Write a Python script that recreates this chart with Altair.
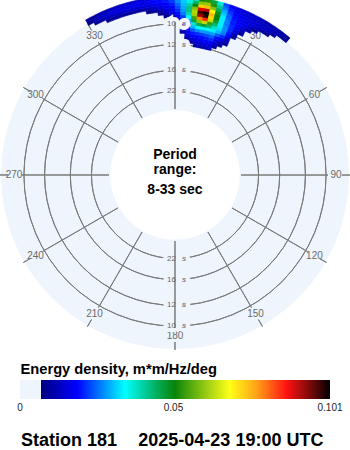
import math
import numpy as np
import pandas as pd
import altair as alt

# ---------------- data ----------------
# frequency bins (Hz, centres), inner -> outer
FREQUENCIES = [0.08375, 0.08625, 0.08875, 0.09125, 0.09375, 0.09625, 0.09875, 0.10125,
               0.10375, 0.10625, 0.10875, 0.11125, 0.11375, 0.11625, 0.11875, 0.12125]
# energy density per direction bin (deg, centre); each list runs over FREQUENCIES
D329 = [0] * 16
D331 = [0] * 14 + [.008, .009]
D333 = [0] * 13 + [.009, .011, .010]
D335 = [0] * 13 + [.010, .013, .012]
D337 = [0] * 12 + [.008, .012, .014, .012]
D339 = [0] * 12 + [.009, .013, .015, .013]
D341 = [0] * 12 + [.009, .013, .016, .013]
D343 = [0] * 12 + [.009, .014, .016, .014]
D345 = [0] * 12 + [.009, .014, .016, .014]
D347 = [0] * 12 + [.009, .014, .017, .015]
D349 = [0] * 12 + [.010, .015, .017, .015]
D351 = [0] * 11 + [.008, .011, .015, .017, .016]
D353 = [0] * 11 + [.009, .013, .016, .018, .017]
D355 = [0] * 10 + [.008, .011, .014, .017, .019, .018]
D357 = [0] * 9 + [.008, .011, .014, .016, .018, .020, .020]
D359 = [0] * 8 + [.008, .012, .015, .017, .018, .020, .022, .022]
D001 = [0] * 7 + [.009, .012, .016, .019, .021, .023, .025, .027, .027]
D003 = [0] * 4 + [.009, .012, .015, .017, .019, .022, .026, .028, .029, .030, .031, .030]
D005 = [0] * 2 + [.010, .014, .017, .019, .022, .025, .029, .034, .039, .042, .042, .040, .036, .032]
D007 = [0] + [.010, .014, .017, .020, .024, .030, .037, .046, .055, .062, .063, .060, .050, .044, .038]
D009 = [.010, .013, .016, .018, .021, .027, .034, .045, .060, .078, .092, .097, .088, .072, .060, .052]
D011 = [.011, .014, .017, .019, .022, .028, .035, .047, .064, .084, .099, .101, .090, .074, .061, .053]
D013 = [.012, .015, .018, .020, .023, .028, .034, .043, .054, .064, .072, .074, .068, .060, .053, .046]
D015 = [.012, .015, .018, .021, .024, .028, .033, .038, .043, .047, .050, .050, .048, .045, .041, .037]
D017 = [0, .010, .013, .016, .019, .024, .030, .032, .033, .033, .033, .033, .031, .029, .026, .023]
D019 = [0, 0, .009, .012, .016, .021, .026, .027, .027, .026, .026, .025, .024, .022, .020, .018]
D021 = [0, 0, 0, .009, .012, .015, .018, .020, .021, .021, .020, .020, .019, .018, .017, .016]
D023 = [0] * 6 + [.009, .012, .015, .017, .018, .018, .017, .017, .016, .015]
D025 = [0] * 8 + [.009, .012, .015, .016, .016, .016, .015, .014]
D027 = [0] * 10 + [.010, .013, .015, .015, .014, .013]
D029 = [0] * 11 + [.009, .013, .014, .014, .012]
D031 = [0] * 12 + [.010, .013, .013, .012]
D033 = [0] * 12 + [.008, .012, .013, .011]
D035 = [0] * 13 + [.010, .012, .011]
D037 = [0] * 14 + [.011, .010]
D039 = [0] * 14 + [.009, .009]
D041 = [0] * 16

DIRECTIONS = [329, 331, 333, 335, 337, 339, 341, 343, 345, 347, 349, 351, 353, 355, 357, 359,
              1, 3, 5, 7, 9, 11, 13, 15, 17, 19, 21, 23, 25, 27, 29, 31, 33, 35, 37, 39, 41]
COLUMNS = [D329, D331, D333, D335, D337, D339, D341, D343, D345, D347, D349, D351, D353, D355,
           D357, D359, D001, D003, D005, D007, D009, D011, D013, D015, D017, D019, D021, D023,
           D025, D027, D029, D031, D033, D035, D037, D039, D041]

RING_PERIODS = [10, 12, 16, 22]
RING_NUMBERS = ["10", "12", "16", "22"]
INNER_PERIOD = 33
OUTER_PERIOD = 8
ANGLES = [0, 30, 60, 90, 120, 150, 180, 210, 240, 270, 300, 330]
LABEL_ANGLES = [30, 60, 90, 120, 150, 180, 210, 240, 270, 300, 330]
LABEL_TEXTS = ["30", "60", "90", "120", "150", "180", "210", "240", "270", "300", "330"]

CB_VALUES = [0, 0.00684, 0.00685, 0.0185, 0.0342, 0.0505, 0.0684, 0.0771, 0.0869, 0.101]
CB_COLORS = ["#eef5fd", "#eef5fd", "#00007f", "#0000ff", "#00ffff", "#008000",
             "#ffff00", "#ff9900", "#ff0000", "#000000"]
CB_TICKS = [0, 0.05, 0.101]
CB_TICK_TEXT = ["0", "0.05", "0.101"]

TITLE_CB = "Energy density, m*m/Hz/deg"
STATION = "Station 181"
STAMP = "2025-04-23 19:00 UTC"
CENTER_LINES = ["Period", "range:", "8-33 sec"]

# ---------------- style ----------------
LIGHT = "#eef5fd"
GRID = "#7a7a7a"
LABEL_GREY = "#6a6a6a"
FONT = "Liberation Sans"
CX, CY = 175, 175
DIR_HALF = 1.0
FREQ_HALF = 0.00125

R_SCALE = alt.Scale(type="linear", domain=[1 / INNER_PERIOD, 1 / OUTER_PERIOD], range=[64.8, 182.0], zero=False)
T_SCALE = alt.Scale(domain=[0, 360], range=[0, 2 * math.pi])
C_SCALE = alt.Scale(domain=CB_VALUES, range=CB_COLORS, interpolate="rgb")
X_SCALE = alt.Scale(domain=[0, 0.101], range=[20, 330])

cx = alt.value(CX)
cy = alt.value(CY)

# ---------------- tables ----------------
heat_rows = []
for d, col in zip(DIRECTIONS, COLUMNS):
    for f, e in zip(FREQUENCIES, col):
        heat_rows.append({"dir": d, "f": f, "e": e})
heat_df = pd.DataFrame(heat_rows)

rings_df = pd.DataFrame({"T": RING_PERIODS})
angles_df = pd.DataFrame({"a": ANGLES})
labels_df = pd.DataFrame({"a": LABEL_ANGLES, "lab": LABEL_TEXTS})
ringlab_df = pd.DataFrame({
    "T": RING_PERIODS * 2,
    "num": RING_NUMBERS * 2,
    "a": [0] * len(RING_PERIODS) + [180] * len(RING_PERIODS),
})

# colour bar ramp (rendering of the colour scale)
edges = np.linspace(CB_VALUES[1], CB_VALUES[-1], 291)
step = edges[1] - edges[0]
cb_df = pd.DataFrame({
    "e0": np.concatenate([[0.0], edges[:-1]]),
    "e1": np.concatenate([[CB_VALUES[1]], edges[:-1] + step * 1.4]),
    "e": np.concatenate([[0.0], (edges[:-1] + edges[1:]) / 2]),
})
cb_df.loc[len(cb_df) - 1, "e1"] = CB_VALUES[-1]
cbt_df = pd.DataFrame({"v": CB_TICKS, "t": CB_TICK_TEXT})
one = pd.DataFrame({"k": [0]})

# ---------------- layers ----------------
full = dict(theta=alt.value(0), theta2=alt.value(2 * math.pi))

disc = alt.Chart(one).mark_arc(fill=LIGHT).encode(radius=alt.value(174), x=cx, y=cy, **full)

inner = alt.Chart(pd.DataFrame({"T": [INNER_PERIOD]})).transform_calculate(
    f="1 / datum.T").mark_arc(fill="white").encode(
    radius=alt.Radius("f:Q", scale=R_SCALE, stack=False), radius2=alt.value(0),
    x=cx, y=cy, **full)

rings = alt.Chart(rings_df).transform_calculate(f="1 / datum.T").mark_arc(
    fill="transparent", stroke=GRID, strokeWidth=1).encode(
    radius=alt.Radius("f:Q", scale=R_SCALE, stack=False), radius2="f:Q",
    x=cx, y=cy, **full)

angle_labels = alt.Chart(labels_df).mark_text(
    font=FONT, fontSize=10, color=LABEL_GREY, align="center", baseline="middle").encode(
    theta=alt.Theta("a:Q", scale=T_SCALE, stack=False), radius=alt.value(161),
    text="lab:N", x=cx, y=cy)

ticks = alt.Chart(angles_df).transform_calculate(a2="datum.a + 0.02").mark_arc(
    fill="transparent", stroke=GRID, strokeWidth=1).encode(
    theta=alt.Theta("a:Q", scale=T_SCALE, stack=False), theta2="a2:Q",
    radius=alt.value(175), radius2=alt.value(167), x=cx, y=cy)

heat = alt.Chart(heat_df).transform_filter("datum.e > 0").transform_calculate(
    d0=f"datum.dir - {DIR_HALF}", d1=f"datum.dir + {DIR_HALF}",
    f0=f"datum.f - {FREQ_HALF}", f1=f"datum.f + {FREQ_HALF}").mark_arc(strokeWidth=0.6).encode(
    theta=alt.Theta("d0:Q", scale=T_SCALE, stack=False), theta2="d1:Q",
    radius=alt.Radius("f1:Q", scale=R_SCALE, stack=False), radius2="f0:Q",
    color=alt.Color("e:Q", scale=C_SCALE, legend=None),
    stroke=alt.Stroke("e:Q", scale=C_SCALE, legend=None),
    x=cx, y=cy)

ring_base = alt.Chart(ringlab_df).transform_calculate(f="1 / datum.T")
ring_pos = dict(theta=alt.Theta("a:Q", scale=T_SCALE, stack=False),
                radius=alt.Radius("f:Q", scale=R_SCALE, stack=False), x=cx, y=cy)

halo_num = ring_base.mark_text(font=FONT, fontSize=8, align="right", baseline="middle", dx=1,
                               fill=LIGHT, stroke=LIGHT, strokeWidth=8).encode(text="num:N", **ring_pos)
halo_s = ring_base.mark_text(font=FONT, fontSize=8, fontStyle="italic", align="left", baseline="middle",
                             dx=7, fill=LIGHT, stroke=LIGHT, strokeWidth=8).encode(text=alt.value("s"), **ring_pos)

spokes = alt.Chart(angles_df).transform_calculate(a2="datum.a + 0.02").mark_arc(
    fill="transparent", stroke=GRID, strokeWidth=1).encode(
    theta=alt.Theta("a:Q", scale=T_SCALE, stack=False), theta2="a2:Q",
    radius=alt.value(153), radius2=alt.value(66), x=cx, y=cy)

ring_num = ring_base.mark_text(font=FONT, fontSize=8, align="right", baseline="middle", dx=1,
                               color=LABEL_GREY).encode(text="num:N", **ring_pos)
ring_s = ring_base.mark_text(font=FONT, fontSize=8, fontStyle="italic", align="left", baseline="middle",
                             dx=7, color=LABEL_GREY).encode(text=alt.value("s"), **ring_pos)

center_layers = []
for txt, yy in zip(CENTER_LINES, [159.3, 174.0, 194.3]):
    center_layers.append(alt.Chart(one).mark_text(
        font=FONT, fontSize=14, fontWeight="bold", color="black", align="center",
        baseline="alphabetic").encode(x=alt.value(175), y=alt.value(yy), text=alt.value(txt)))

cbar = alt.Chart(cb_df).mark_rect().encode(
    x=alt.X("e0:Q", scale=X_SCALE, axis=None), x2="e1:Q",
    y=alt.value(380), y2=alt.value(399),
    color=alt.Color("e:Q", scale=C_SCALE, legend=None))

cbar_ticks = alt.Chart(cbt_df).mark_text(
    font=FONT, fontSize=10, color="#222222", align="center", baseline="alphabetic").encode(
    x=alt.X("v:Q", scale=X_SCALE, axis=None), y=alt.value(410.7), text="t:N")

cb_title = alt.Chart(one).mark_text(
    font=FONT, fontSize=14.7, fontWeight="bold", color="black", align="left",
    baseline="alphabetic").encode(x=alt.value(20.5), y=alt.value(374.3), text=alt.value(TITLE_CB))

station = alt.Chart(one).mark_text(
    font=FONT, fontSize=18, fontWeight="bold", color="black", align="left",
    baseline="alphabetic").encode(x=alt.value(21), y=alt.value(445.7), text=alt.value(STATION))
stamp = alt.Chart(one).mark_text(
    font=FONT, fontSize=18, fontWeight="bold", color="black", align="left",
    baseline="alphabetic").encode(x=alt.value(138.3), y=alt.value(445.7), text=alt.value(STAMP))

chart = alt.layer(
    disc, inner, rings, angle_labels, ticks, heat, halo_num, halo_s, spokes, ring_num, ring_s,
    *center_layers, cbar, cbar_ticks, cb_title, station, stamp
).properties(
    width=350, height=450, autosize="none", padding=0, background="white"
).configure_view(strokeWidth=0)

chart.save("out.html", embed_options={"renderer": "svg", "actions": False})
